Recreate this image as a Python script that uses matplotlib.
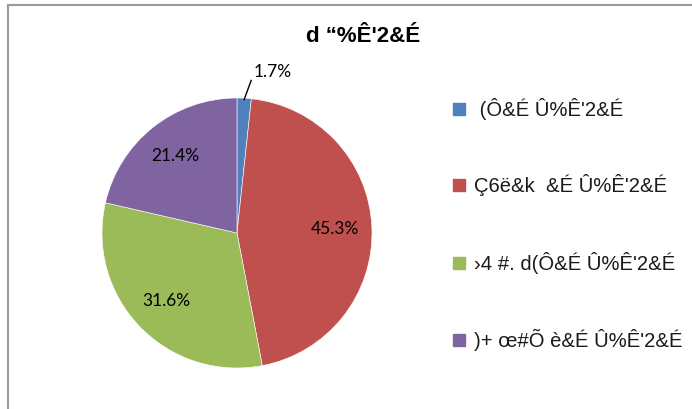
import matplotlib
matplotlib.use("Agg")
import matplotlib.pyplot as plt
import numpy as np
from matplotlib.lines import Line2D

title = "d \u201c%Ê'2&É"
categories = [" (Ô&É Û%Ê'2&É", "Ç6ë&k  &É Û%Ê'2&É", "\u203a4 #. d(Ô&É Û%Ê'2&É", ")+ œ#Õ è&É Û%Ê'2&É"]
values = [1.7, 45.3, 31.6, 21.4]
colors = ["#4F81BD", "#C0504D", "#9BBB59", "#8064A2"]

W, H = 692, 409
fig = plt.figure(figsize=(W / 100, H / 100), dpi=100)
fig.patch.set_facecolor("white")

# outer chart frame (top and left edges visible)
fig.add_artist(Line2D([7.5 / W, 7.5 / W], [0, 1 - 5 / H], color="#9a9a9a", lw=1.5, transform=fig.transFigure))
fig.add_artist(Line2D([7.5 / W, 1], [1 - 5 / H, 1 - 5 / H], color="#9a9a9a", lw=1.5, transform=fig.transFigure))

cx, cy, r = 237, 233, 135
ax = fig.add_axes([(cx - r) / W, (H - cy - r) / H, 2 * r / W, 2 * r / H])
wedges, _ = ax.pie(values, colors=colors, startangle=90, counterclock=False,
                   wedgeprops=dict(linewidth=0.4, edgecolor="white"))
ax.set_xlim(-1, 1)
ax.set_ylim(-1, 1)
ax.set_aspect("equal")
ax.axis("off")

lab_font = dict(family=["Lato", "DejaVu Sans"], fontsize=12.5, color="black")
for i, (w, v) in enumerate(zip(wedges, values)):
    ang = np.deg2rad((w.theta1 + w.theta2) / 2)
    txt = f"{v:.1f}%"
    if v < 5:
        # small slice: outside label with leader line
        ax.plot([np.cos(ang) * 0.99, 0.105], [np.sin(ang) * 0.99, 1.13], color="black", lw=1, clip_on=False)
        ax.text(0.12, 1.19, txt, ha="left", va="center", **lab_font)
    else:
        d = 0.73
        ax.text(d * np.cos(ang), d * np.sin(ang), txt, ha="center", va="center", **lab_font)

fig.text(363 / W, 1 - 37 / H, title, ha="center", va="center", fontsize=16,
         fontweight="bold", family="Liberation Sans")

leg_y = [109, 185, 263, 340]
for cat, col, y in zip(categories, colors, leg_y):
    fig.patches.append(plt.Rectangle((452.5 / W, 1 - (y + 6) / H), 12 / W, 12 / H,
                                     transform=fig.transFigure, color=col))
    fig.text(474 / W, 1 - y / H, cat, ha="left", va="center", fontsize=14.6,
             family="Liberation Sans", color="#1a1a1a")

fig.savefig("out.png", dpi=100)
